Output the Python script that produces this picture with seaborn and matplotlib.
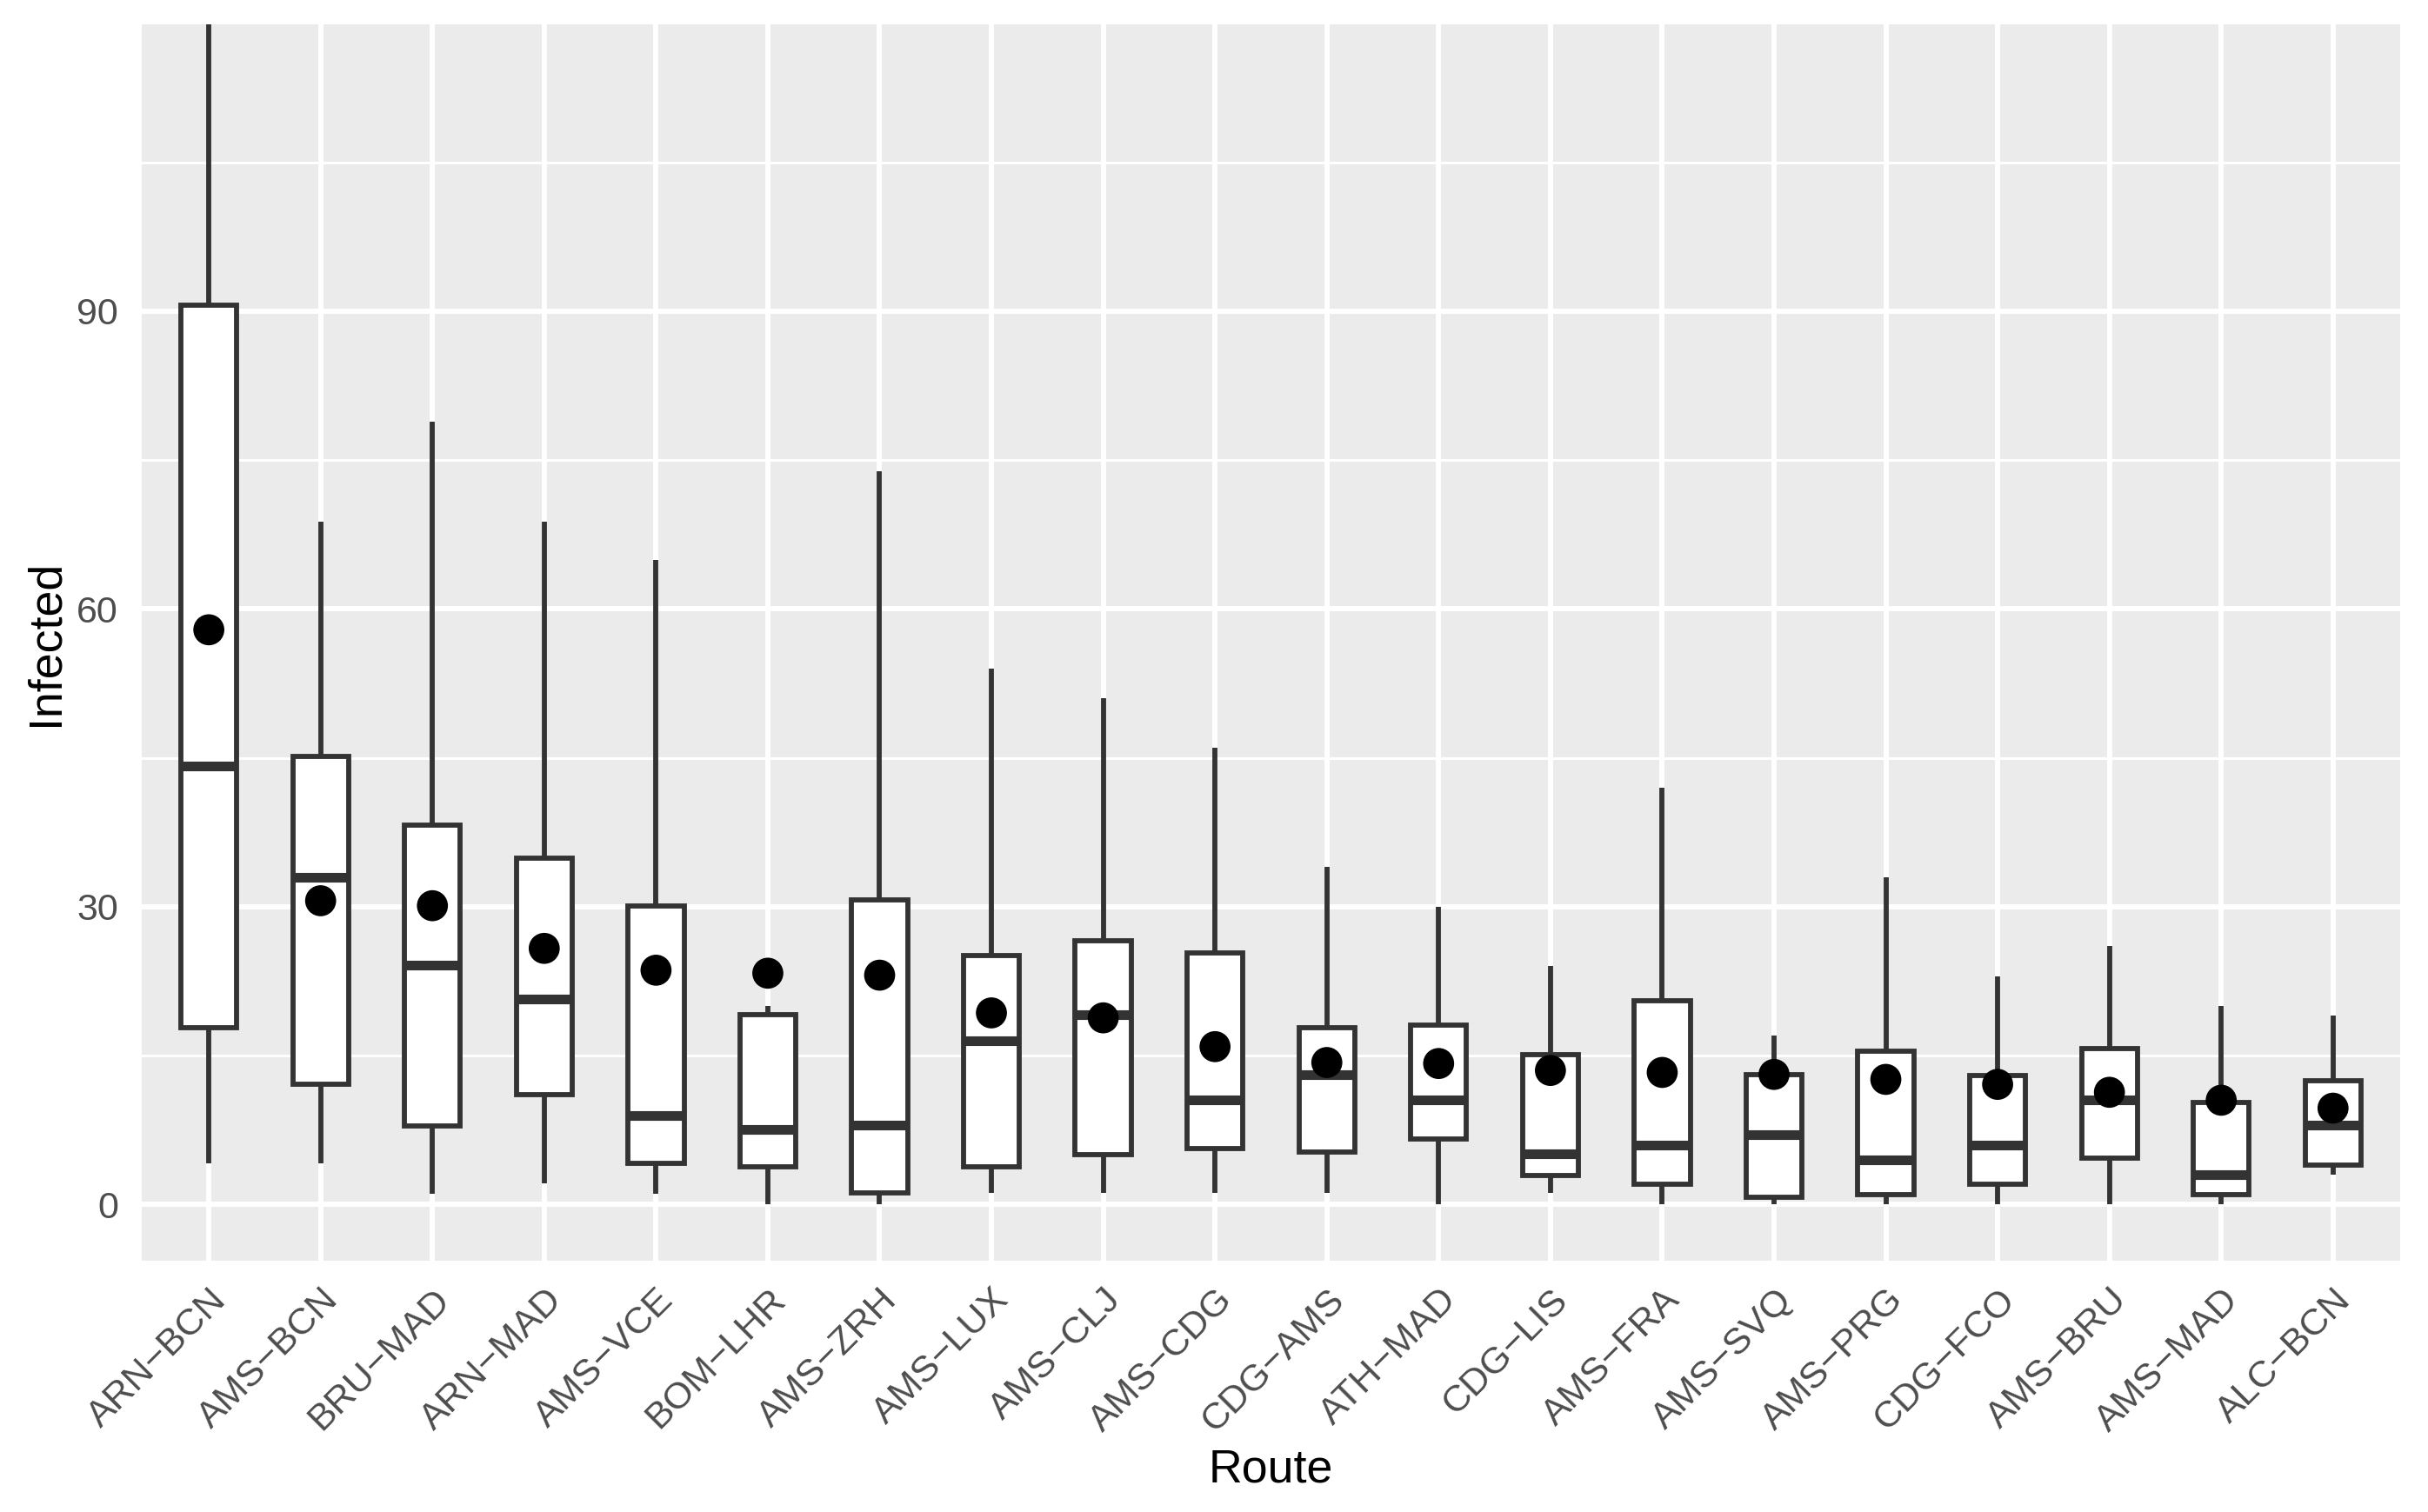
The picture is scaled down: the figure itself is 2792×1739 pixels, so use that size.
import numpy as np
import pandas as pd
import matplotlib.pyplot as plt
import seaborn as sns

routes = ["ARN-BCN", "AMS-BCN", "BRU-MAD", "ARN-MAD", "AMS-VCE", "BOM-LHR",
          "AMS-ZRH", "AMS-LUX", "AMS-CLJ", "AMS-CDG", "CDG-AMS", "ATH-MAD",
          "CDG-LIS", "AMS-FRA", "AMS-SVQ", "AMS-PRG", "CDG-FCO", "AMS-BRU",
          "AMS-MAD", "ALC-BCN"]

# five-number summaries
whisk_lo = [4.1, 4.1, 1.1, 2.1, 1.1, 0.0, 0.0, 1.2, 1.2, 1.2,
            1.2, 0.0, 1.2, 0.0, 0.0, 0.0, 0.0, 0.0, 0.0, 3.0]
q1 = [17.8, 12.1, 7.9, 11.1, 4.1, 3.8, 1.2, 3.8, 5.0, 5.6,
      5.3, 6.6, 2.9, 2.0, 0.7, 1.0, 2.0, 4.7, 1.0, 4.0]
median = [44.2, 33.0, 24.1, 20.7, 9.0, 7.6, 8.0, 16.5, 19.1, 10.5,
          13.1, 10.5, 5.1, 6.0, 7.0, 4.5, 6.0, 10.5, 3.0, 8.0]
q3 = [90.6, 45.1, 38.2, 34.9, 30.1, 19.1, 30.7, 25.1, 26.6, 25.3,
      17.8, 18.1, 15.1, 20.5, 13.1, 15.4, 13.0, 15.7, 10.3, 12.5]
whisk_hi = [150.0, 68.8, 78.9, 68.8, 64.9, 20.0, 73.9, 54.0, 51.0, 46.0,
            34.0, 30.0, 24.0, 42.0, 17.0, 33.0, 23.0, 26.0, 20.0, 19.0]
mean_infected = [57.9, 30.6, 30.1, 25.8, 23.6, 23.3, 23.1, 19.3, 18.8, 15.9,
                 14.3, 14.2, 13.5, 13.3, 13.1, 12.6, 12.1, 11.3, 10.5, 9.7]

rows = []
for r, a, b, c, d, e in zip(routes, whisk_lo, q1, median, q3, whisk_hi):
    for v in (a, b, c, d, e):
        rows.append((r, v))
df = pd.DataFrame(rows, columns=["Route", "Infected"])
means = pd.DataFrame({"Route": routes, "Infected": mean_infected})

sns.set_theme(style="darkgrid")
plt.rcParams['font.family'] = ['Liberation Sans', 'DejaVu Sans']

dark = "#333333"
fig = plt.figure(figsize=(27.92, 17.39), dpi=100)
ax = fig.add_axes([0.05838, 0.16619, 0.93013, 0.81771])
ax.set_facecolor("#EBEBEB")

sns.boxplot(data=df, x="Route", y="Infected", order=routes, width=0.5,
            color="white", linecolor=dark, linewidth=4.2, showfliers=False,
            showcaps=False, saturation=1,
            medianprops=dict(linewidth=8, color=dark), ax=ax, zorder=3)
sns.scatterplot(data=means, x="Route", y="Infected", color="black", s=660,
                edgecolor="none", legend=False, ax=ax, zorder=5)

ax.set_xlim(-0.6, len(routes) - 0.4)
ax.set_ylim(-5.67, 118.9)
ax.set_yticks([0, 30, 60, 90])
ax.set_yticks([15, 45, 75, 105], minor=True)
ax.set_xticks(range(len(routes)))
ax.set_xticklabels([r.replace("-", "\u2212") for r in routes],
                   rotation=45, ha="right", rotation_mode="anchor")

ax.set_axisbelow(True)
ax.grid(which="major", color="white", linewidth=4.3)
ax.grid(which="minor", axis="y", color="white", linewidth=2.2)
for s in ax.spines.values():
    s.set_visible(False)

ax.tick_params(axis="both", which="major", length=10, width=4.3, color=dark,
               labelcolor="#4D4D4D", labelsize=31)
ax.tick_params(axis="x", pad=7.8)
ax.tick_params(axis="y", pad=9.4)
ax.tick_params(which="minor", length=0)

ax.set_xlabel("Route", fontsize=38.7, color="black")
ax.set_ylabel("Infected", fontsize=38.7, color="black")
ax.xaxis.set_label_coords(0.5, -(1705 - 1450) / 1422)
ax.xaxis.label.set_va("baseline")
ax.yaxis.set_label_coords((52 - 163) / 2597, 0.5)
ax.yaxis.label.set_va("center")

fig.savefig("out.png", dpi=100, facecolor="white")
